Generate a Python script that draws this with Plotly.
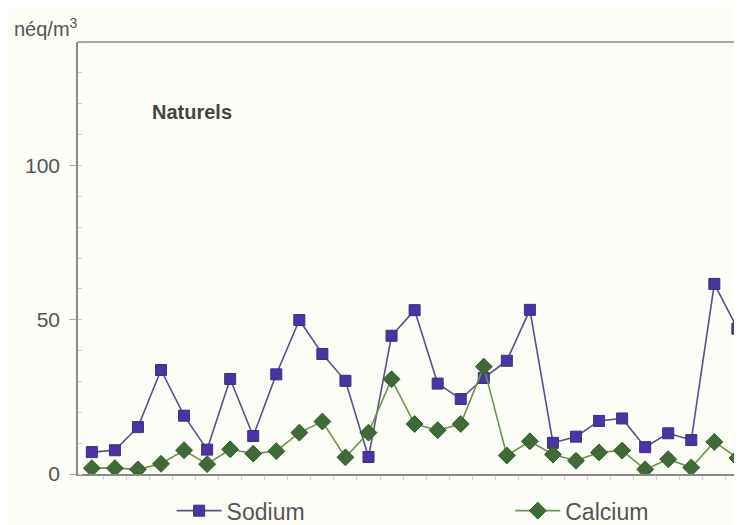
import plotly.graph_objects as go

# sampling index along the x axis (no labels in the original)
samples = list(range(1, 30))

sodium = [7.1, 7.7, 15.2, 33.7, 18.9, 7.9, 30.8, 12.3, 32.3, 49.9,
          38.9, 30.2, 5.5, 44.8, 53.1, 29.3, 24.3, 31.1, 36.7, 53.2,
          10.1, 12.1, 17.2, 18.0, 8.7, 13.2, 11.0, 61.6, 47.1]

calcium = [1.9, 1.9, 1.5, 3.3, 7.7, 3.2, 8.0, 6.6, 7.4, 13.4,
           17.0, 5.4, 13.4, 30.7, 16.2, 14.2, 16.2, 34.8, 6.0, 10.6,
           6.3, 4.3, 7.0, 7.6, 1.5, 4.8, 2.1, 10.4, 5.2]

y_ticks = [0, 50, 100]

fig = go.Figure()

fig.add_trace(go.Scatter(
    x=samples, y=sodium, name="Sodium", mode="lines+markers",
    line=dict(color="#5a4e8c", width=1.6),
    marker=dict(symbol="square", size=11, color="#4a33a2",
                line=dict(color="#3e2f80", width=1)),
    legend="legend",
))
fig.add_trace(go.Scatter(
    x=samples, y=calcium, name="Calcium", mode="lines+markers",
    line=dict(color="#6e9448", width=1.6),
    marker=dict(symbol="diamond", size=13, color="#3e6a35",
                line=dict(color="#355c2c", width=1)),
    legend="legend2",
))

leg_style = dict(orientation="h", yanchor="middle", xanchor="left",
                 itemwidth=45, font=dict(size=23, color="#555555"),
                 bgcolor="rgba(0,0,0,0)")

# page body has an 8px margin, so the figure is 8px smaller than the window
fig.update_layout(
    width=734, height=517,
    margin=dict(l=70, r=0, t=34, b=51, autoexpand=False),
    paper_bgcolor="#fdfdf8", plot_bgcolor="#fdfdf8",
    font=dict(family="Liberation Sans, Arial, sans-serif", size=21, color="#555555"),
    showlegend=True,
    legend=dict(x=0.141, y=-0.085, **leg_style),
    legend2=dict(x=0.651, y=-0.085, **leg_style),
    xaxis=dict(range=[0.4, 29.2], showgrid=False, zeroline=False,
               showline=True, linecolor="#8a8a8a", linewidth=1.5,
               tickvals=[i + 0.5 for i in samples], ticktext=["" for _ in samples],
               ticks="outside", ticklen=4, tickcolor="#cfcfcf"),
    yaxis=dict(range=[0, 140], showgrid=False, zeroline=False,
               showline=True, linecolor="#8a8a8a", linewidth=1.5,
               tickvals=y_ticks, ticks="outside", ticklen=7, tickcolor="#aaaaaa",
               minor=dict(dtick=10, ticks="inside", ticklen=4, tickcolor="#cccccc",
                          showgrid=False),
               ticklabelstandoff=5),
)

# top frame line
fig.add_shape(type="line", xref="paper", yref="paper", x0=0, x1=1, y0=1, y1=1,
              line=dict(color="#8a8a8a", width=1.5))

fig.add_annotation(text="néq/m<sup>3</sup>", xref="paper", yref="paper",
                   x=-0.1, y=1.034, xanchor="left", yanchor="middle",
                   showarrow=False, font=dict(size=20, color="#555555"))
fig.add_annotation(text="<b>Naturels</b>", xref="paper", yref="paper",
                   x=0.108, y=0.838, xanchor="left", yanchor="middle",
                   showarrow=False, font=dict(size=20, color="#444444"))

fig.write_html("out.html")
